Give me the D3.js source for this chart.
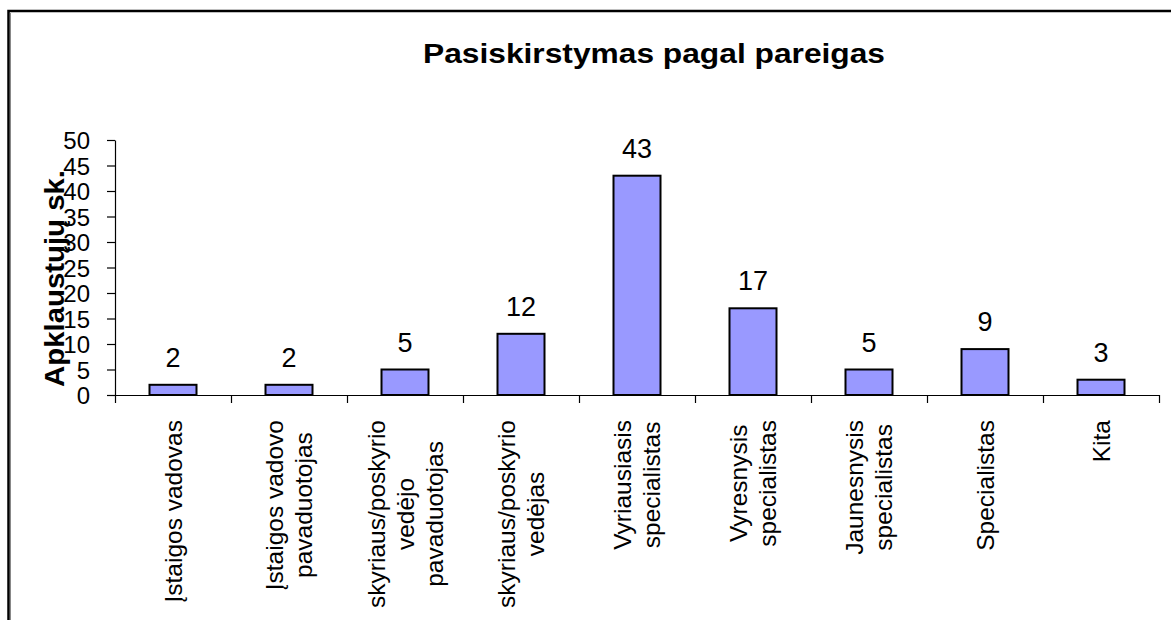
<!DOCTYPE html>
<html>
<head>
<meta charset="utf-8">
<script src="https://cdn.jsdelivr.net/npm/d3@7"></script>
<style>
  html, body { margin: 0; padding: 0; background: #fff; }
  svg { display: block; }
  text { font-family: "Liberation Sans", Arial, sans-serif; fill: #000; }
</style>
</head>
<body>
<svg id="chart" width="1171" height="620"></svg>
<script>
const categories = [
  ["Įstaigos vadovas"],
  ["Įstaigos vadovo", "pavaduotojas"],
  ["skyriaus/poskyrio", "vedėjo", "pavaduotojas"],
  ["skyriaus/poskyrio", "vedėjas"],
  ["Vyriausiasis", "specialistas"],
  ["Vyresnysis", "specialistas"],
  ["Jaunesnysis", "specialistas"],
  ["Specialistas"],
  ["Kita"]
];
const values = [2, 2, 5, 12, 43, 17, 5, 9, 3];
const yTicks = [0, 5, 10, 15, 20, 25, 30, 35, 40, 45, 50];
const titleText = "Pasiskirstymas pagal pareigas";
const yTitle = "Apklaustųjų sk.";

const svg = d3.select("#chart");

// outer frame
svg.append("rect")
  .attr("x", 8.5).attr("y", 11).attr("width", 1250).attr("height", 700)
  .attr("fill", "none").attr("stroke", "#000").attr("stroke-width", 2.5);
svg.append("line").attr("x1", 10.5).attr("x2", 10.5).attr("y1", 13).attr("y2", 620)
  .attr("stroke", "#888").attr("stroke-width", 1);

const plotL = 115, plotR = 1159, plotT = 140, plotB = 395;

const x = d3.scaleBand().domain(d3.range(categories.length)).range([plotL, plotR]).paddingInner(0).paddingOuter(0);
const y = d3.scaleLinear().domain([0, 50]).range([plotB, plotT]);

// title
svg.append("text")
  .attr("x", 423).attr("y", 63)
  .attr("font-size", 27).attr("font-weight", "bold")
  .attr("textLength", 462).attr("lengthAdjust", "spacingAndGlyphs")
  .text(titleText);

// y axis
const yAxis = d3.axisLeft(y).tickValues(yTicks).tickSize(8).tickSizeOuter(0).tickPadding(17);
const gy = svg.append("g").attr("transform", `translate(${plotL},0)`).call(yAxis);
gy.select(".domain").attr("stroke", "#000").attr("stroke-width", 1.2);
gy.selectAll(".tick line").attr("stroke", "#000").attr("stroke-width", 1.2);
gy.selectAll(".tick text").attr("font-size", 24).attr("font-family", "Liberation Sans, Arial, sans-serif").attr("fill", "#000").attr("dy", "0.36em");

// y title
svg.append("text")
  .attr("transform", `translate(64,${(170 + 387) / 2}) rotate(-90)`)
  .attr("text-anchor", "middle")
  .attr("font-size", 28).attr("font-weight", "bold")
  .attr("textLength", 217).attr("lengthAdjust", "spacingAndGlyphs")
  .text(yTitle);

// bars
const barW = 47;
svg.append("g").selectAll("rect").data(values).join("rect")
  .attr("x", (d, i) => x(i) + x.bandwidth() / 2 - barW / 2)
  .attr("y", d => y(d))
  .attr("width", barW)
  .attr("height", d => y(0) - y(d))
  .attr("fill", "#9999FF")
  .attr("stroke", "#000").attr("stroke-width", 2);

// x axis
const xAxis = d3.axisBottom(d3.scaleLinear().domain([0, categories.length]).range([plotL, plotR]))
  .tickValues(d3.range(categories.length + 1)).tickSize(8).tickSizeOuter(0).tickFormat("");
const gx = svg.append("g").attr("transform", `translate(0,${plotB})`).call(xAxis);
gx.select(".domain").attr("stroke", "#000").attr("stroke-width", 1.2);
gx.selectAll(".tick line").attr("stroke", "#000").attr("stroke-width", 1.2);

// value labels
svg.append("g").selectAll("text").data(values).join("text")
  .attr("x", (d, i) => x(i) + x.bandwidth() / 2)
  .attr("y", d => y(d) - 18)
  .attr("text-anchor", "middle")
  .attr("font-size", 27)
  .text(d => d);

// category labels (rotated)
const lineH = 29;
const labelTop = 420;
categories.forEach((lines, i) => {
  const g = svg.append("g")
    .attr("transform", `translate(${x(i) + x.bandwidth() / 2},${labelTop}) rotate(-90)`);
  const texts = lines.map((ln, k) => g.append("text")
    .attr("font-size", 24.5)
    .attr("text-anchor", "middle")
    .attr("y", (k - (lines.length - 1) / 2) * lineH + 8.5)
    .text(ln));
  const maxW = d3.max(texts, t => t.node().getComputedTextLength());
  texts.forEach(t => t.attr("x", -maxW / 2));
});
</script>
</body>
</html>
